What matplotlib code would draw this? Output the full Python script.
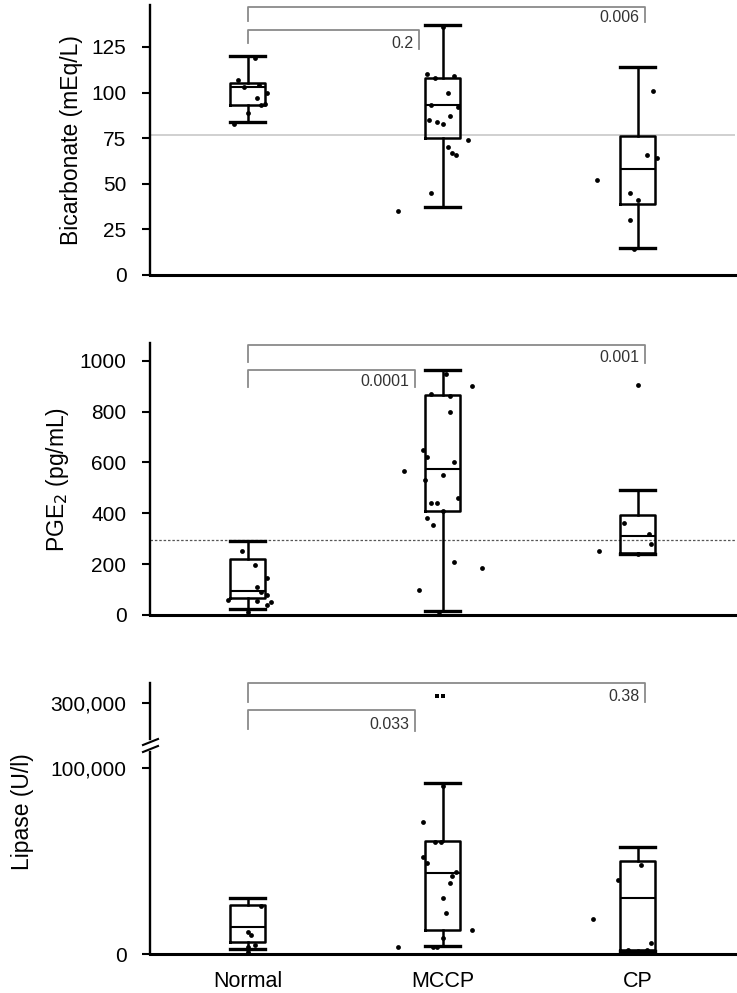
import matplotlib
matplotlib.use('Agg')
import matplotlib.pyplot as plt

plt.rcParams['font.family'] = ['Liberation Sans', 'DejaVu Sans']

groups = ['Normal', 'MCCP', 'CP']

# box stats: whislo, q1, med, q3, whishi
bic_stats = [[84, 93, 103, 105, 120], [37, 75, 93, 108, 137], [15, 39, 58, 76, 114]]
bic_pts = [[119, 107, 104, 103, 100, 97, 94, 93, 89, 83],
           [136, 110, 109, 108, 100, 93, 92, 87, 85, 84, 83, 74, 70, 67, 66, 45, 35],
           [101, 66, 64, 52, 45, 41, 30, 14]]
bic_jit = [[0.04, -0.05, 0.06, -0.02, 0.1, 0.05, 0.09, 0.07, 0.0, -0.07],
           [0.0, -0.08, 0.06, -0.04, 0.03, -0.06, 0.08, 0.04, -0.07, -0.03, 0.0, 0.13, 0.03, 0.05, 0.07, -0.06, -0.23],
           [0.08, 0.05, 0.1, -0.21, -0.04, 0.0, -0.04, -0.02]]
bic_ref = 77
bic_p = ['0.2', '0.006']

pge_stats = [[25, 65, 95, 220, 290], [15, 410, 575, 865, 965], [240, 245, 310, 395, 490]]
pge_pts = [[250, 195, 145, 110, 90, 80, 60, 55, 50, 40, 10],
           [950, 900, 870, 860, 800, 650, 620, 600, 565, 550, 530, 460, 440, 440, 410, 380, 355, 210, 185, 100, 5],
           [905, 360, 320, 280, 250, 240]]
pge_jit = [[-0.03, 0.04, 0.1, 0.05, 0.07, 0.1, -0.1, 0.05, 0.12, 0.1, 0.0],
           [0.02, 0.15, -0.06, 0.04, 0.04, -0.1, -0.08, 0.06, -0.2, 0.0, -0.09, 0.08, -0.06, -0.03, 0.0, -0.08, -0.05, 0.06, 0.2, -0.12, -0.02],
           [0.0, -0.07, 0.06, 0.07, -0.2, 0.0]]
pge_ref = 295
pge_p = ['0.0001', '0.001']

lip_stats = [[2700, 6500, 14500, 26300, 30100], [4300, 12900, 43500, 60800, 92000], [1500, 2000, 30000, 50000, 57500]]
lip_pts = [[26000, 12000, 10000, 5000, 4000, 1000],
           [304000, 304000, 90000, 71000, 60000, 60000, 52000, 49000, 44000, 42000, 38000, 30000, 22000, 13000, 8600, 4000, 4000, 3500],
           [48000, 40000, 19000, 6000, 2000, 2000]]
lip_jit = [[0.07, 0.0, 0.02, 0.04, 0.0, 0.0],
           [-0.03, 0.0, 0.0, -0.1, -0.04, -0.01, -0.1, -0.08, 0.07, 0.05, 0.04, 0.0, 0.02, 0.15, 0.0, -0.05, -0.03, -0.23],
           [0.02, -0.1, -0.23, 0.07, -0.05, 0.05]]
lip_p = ['0.033', '0.38']

W, H = 737, 993
fig = plt.figure(figsize=(W / 100, H / 100), dpi=100)
TICK_FS = 15
LABEL_FS = 16.5


def px_axes(left, right, top, bottom):
    return fig.add_axes([left / W, 1 - bottom / H, (right - left) / W, (bottom - top) / H])


def stats_list(st):
    return [dict(whislo=s[0], q1=s[1], med=s[2], q3=s[3], whishi=s[4], fliers=[]) for s in st]


def draw_boxes(ax, st, pts, jit):
    ax.bxp(stats_list(st), positions=[0, 1, 2], widths=0.18, showfliers=False,
           boxprops=dict(color='black', lw=1.8), whiskerprops=dict(color='black', lw=1.8),
           capprops=dict(color='black', lw=2.4), medianprops=dict(color='black', lw=1.5),
           capwidths=0.18, manage_ticks=False, zorder=2)
    for i in range(3):
        ax.scatter([i + j for j in jit[i]], pts[i], s=12, color='black', zorder=3, lw=0)


def style(ax):
    ax.set_xlim(-0.5, 2.5)
    ax.spines['top'].set_visible(False)
    ax.spines['right'].set_visible(False)
    ax.spines['left'].set_linewidth(1.7)
    ax.spines['bottom'].set_linewidth(2.2)
    ax.set_xticks([])
    ax.tick_params(axis='y', direction='out', length=6, width=1.5, labelsize=TICK_FS, pad=11)


def bracket(ax, x1, x2, ytop, yl, yr, text, fs=11.5):
    ax.plot([x1, x1, x2, x2], [yl, ytop, ytop, yr], color='#8a8a8a', lw=1.3, clip_on=False, zorder=1)
    ax.text(x2 - 0.03, ytop - 0.72 * (ytop - yr), text, ha='right', va='center',
            fontsize=fs, color='#333333')


# top panel
ax1 = px_axes(150, 735, 5, 275)
style(ax1)
ax1.set_ylim(0, 148)
ax1.set_yticks([0, 25, 50, 75, 100, 125])
ax1.axhline(bic_ref, color='#c8c8c8', lw=1.2, zorder=0)
draw_boxes(ax1, bic_stats, bic_pts, bic_jit)
bracket(ax1, 0, 0.88, 134.5, 127, 124, bic_p[0])
bracket(ax1, 0, 2.04, 147, 139, 138.5, bic_p[1])
ax1.set_ylabel('Bicarbonate (mEq/L)', fontsize=LABEL_FS, labelpad=6)

# middle panel
ax2 = px_axes(150, 735, 343, 615)
style(ax2)
ax2.set_ylim(0, 1070)
ax2.set_yticks([0, 200, 400, 600, 800, 1000])
ax2.axhline(pge_ref, color='#555555', lw=0.9, ls=(0, (2, 1.5)), zorder=0)
draw_boxes(ax2, pge_stats, pge_pts, pge_jit)
bracket(ax2, 0, 0.86, 965, 898, 898, pge_p[0])
bracket(ax2, 0, 2.04, 1063, 996, 992, pge_p[1])
ax2.set_ylabel('PGE$_2$ (pg/mL)', fontsize=LABEL_FS, labelpad=6)

# bottom panel, broken axis
ax3 = px_axes(150, 735, 752, 954)
ax3u = px_axes(150, 735, 683, 739)
style(ax3)
ax3.set_ylim(0, 108500)
ax3.set_yticks([0, 100000])
ax3.set_yticklabels(['0', '100,000'])
draw_boxes(ax3, lip_stats, lip_pts, lip_jit)
ax3.set_xticks([0, 1, 2])
ax3.set_xticklabels(groups, fontsize=15.5)
ax3.tick_params(axis='x', length=0, pad=12)

ax3u.set_xlim(-0.5, 2.5)
ax3u.set_ylim(281000, 310750)
ax3u.patch.set_alpha(0)
for s in ['top', 'right', 'bottom']:
    ax3u.spines[s].set_visible(False)
ax3u.spines['left'].set_linewidth(1.7)
ax3u.set_xticks([])
ax3u.set_yticks([300000])
ax3u.set_yticklabels(['300,000'])
ax3u.tick_params(axis='y', direction='out', length=6, width=1.5, labelsize=TICK_FS, pad=11)
ax3u.scatter([1 + j for j in lip_jit[1][:2]], lip_pts[1][:2], s=12, color='black', marker='s', lw=0)
bracket(ax3u, 0, 0.86, 296500, 286500, 285500, lip_p[0])
bracket(ax3u, 0, 2.04, 310700, 300500, 300500, lip_p[1])

# break marks
for yb in (742, 749):
    fig.add_artist(plt.Line2D([143 / W, 158 / W], [1 - (yb + 3) / H, 1 - (yb - 3) / H],
                              color='black', lw=1.5))

fig.text(22 / W, 1 - 812 / H, 'Lipase (U/l)', rotation=90, ha='center', va='center', fontsize=LABEL_FS)

fig.savefig('out.png', dpi=100)
